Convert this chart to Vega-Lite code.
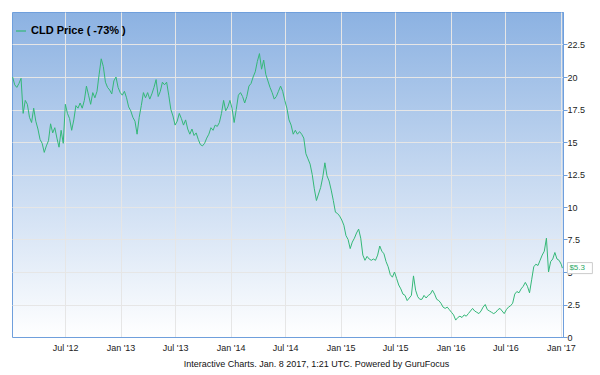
{
  "$schema": "https://vega.github.io/schema/vega-lite/v6.json",
  "width": 551,
  "height": 325,
  "autosize": {"type": "none"},
  "padding": {"left": 12, "top": 12, "right": 37, "bottom": 38},
  "background": "#ffffff",
  "config": {
    "font": "Liberation Sans",
    "view": {
      "fill": {"gradient": "linear", "x1": 0, "y1": 0, "x2": 0, "y2": 1, "stops": [{"offset": 0, "color": "#8cb2e2"}, {"offset": 1, "color": "#ffffff"}]},
      "stroke": "#6f9fdc",
      "strokeWidth": 1
    },
    "axis": {"gridColor": "#e6e6e6", "gridWidth": 1, "domainColor": "#6f9fdc", "tickColor": "#6f9fdc", "labelColor": "#222222", "labelFontSize": 9}
  },
  "data": {"values": [
    {"date":"2012-01-09","price":20.0},{"date":"2012-01-16","price":19.4},{"date":"2012-01-23","price":19.2},{"date":"2012-01-30","price":19.5},
    {"date":"2012-02-06","price":19.9},{"date":"2012-02-13","price":17.2},{"date":"2012-02-20","price":18.2},{"date":"2012-02-27","price":17.9},
    {"date":"2012-03-05","price":16.9},{"date":"2012-03-12","price":16.5},{"date":"2012-03-19","price":17.6},{"date":"2012-03-26","price":16.6},
    {"date":"2012-04-02","price":16.0},{"date":"2012-04-09","price":15.2},{"date":"2012-04-16","price":14.9},{"date":"2012-04-23","price":14.2},{"date":"2012-04-30","price":14.7},
    {"date":"2012-05-07","price":15.1},{"date":"2012-05-14","price":16.4},{"date":"2012-05-21","price":15.7},{"date":"2012-05-28","price":16.1},
    {"date":"2012-06-04","price":15.3},{"date":"2012-06-11","price":14.6},{"date":"2012-06-18","price":15.9},{"date":"2012-06-25","price":14.9},
    {"date":"2012-07-02","price":17.9},{"date":"2012-07-09","price":17.2},{"date":"2012-07-16","price":16.8},{"date":"2012-07-23","price":15.9},{"date":"2012-07-30","price":16.7},
    {"date":"2012-08-06","price":17.8},{"date":"2012-08-13","price":17.6},{"date":"2012-08-20","price":18.0},{"date":"2012-08-27","price":17.6},
    {"date":"2012-09-03","price":18.2},{"date":"2012-09-10","price":19.3},{"date":"2012-09-17","price":18.6},{"date":"2012-09-24","price":17.9},
    {"date":"2012-10-01","price":18.8},{"date":"2012-10-08","price":18.4},{"date":"2012-10-15","price":18.9},{"date":"2012-10-22","price":20.2},{"date":"2012-10-29","price":21.4},
    {"date":"2012-11-05","price":20.8},{"date":"2012-11-12","price":19.6},{"date":"2012-11-19","price":19.2},{"date":"2012-11-26","price":19.0},
    {"date":"2012-12-03","price":18.7},{"date":"2012-12-10","price":19.7},{"date":"2012-12-17","price":20.0},{"date":"2012-12-24","price":19.2},{"date":"2012-12-31","price":18.8},
    {"date":"2013-01-07","price":18.6},{"date":"2013-01-14","price":18.9},{"date":"2013-01-21","price":18.4},{"date":"2013-01-28","price":17.7},
    {"date":"2013-02-04","price":17.4},{"date":"2013-02-11","price":16.9},{"date":"2013-02-18","price":16.6},{"date":"2013-02-25","price":15.6},
    {"date":"2013-03-04","price":16.9},{"date":"2013-03-11","price":17.8},{"date":"2013-03-18","price":18.8},{"date":"2013-03-25","price":18.4},
    {"date":"2013-04-01","price":18.8},{"date":"2013-04-08","price":18.3},{"date":"2013-04-15","price":18.7},{"date":"2013-04-22","price":19.2},{"date":"2013-04-29","price":19.8},
    {"date":"2013-05-06","price":18.5},{"date":"2013-05-13","price":18.9},{"date":"2013-05-20","price":19.6},{"date":"2013-05-27","price":19.4},
    {"date":"2013-06-03","price":19.6},{"date":"2013-06-10","price":18.6},{"date":"2013-06-17","price":17.5},{"date":"2013-06-24","price":17.0},
    {"date":"2013-07-01","price":16.3},{"date":"2013-07-08","price":16.6},{"date":"2013-07-15","price":17.2},{"date":"2013-07-22","price":16.8},{"date":"2013-07-29","price":16.3},
    {"date":"2013-08-05","price":16.7},{"date":"2013-08-12","price":16.0},{"date":"2013-08-19","price":15.6},{"date":"2013-08-26","price":16.0},
    {"date":"2013-09-02","price":15.5},{"date":"2013-09-09","price":15.7},{"date":"2013-09-16","price":15.2},{"date":"2013-09-23","price":14.8},{"date":"2013-09-30","price":14.7},
    {"date":"2013-10-07","price":14.9},{"date":"2013-10-14","price":15.3},{"date":"2013-10-21","price":15.6},{"date":"2013-10-28","price":16.1},
    {"date":"2013-11-04","price":15.9},{"date":"2013-11-11","price":16.3},{"date":"2013-11-18","price":16.2},{"date":"2013-11-25","price":16.5},
    {"date":"2013-12-02","price":17.2},{"date":"2013-12-09","price":18.2},{"date":"2013-12-16","price":17.4},{"date":"2013-12-23","price":17.7},{"date":"2013-12-30","price":18.2},
    {"date":"2014-01-06","price":17.6},{"date":"2014-01-13","price":16.5},{"date":"2014-01-20","price":17.5},{"date":"2014-01-27","price":18.6},
    {"date":"2014-02-03","price":18.8},{"date":"2014-02-10","price":18.5},{"date":"2014-02-17","price":18.0},{"date":"2014-02-24","price":18.5},
    {"date":"2014-03-03","price":19.3},{"date":"2014-03-10","price":19.5},{"date":"2014-03-17","price":20.0},{"date":"2014-03-24","price":20.4},{"date":"2014-03-31","price":21.2},
    {"date":"2014-04-07","price":21.8},{"date":"2014-04-14","price":20.6},{"date":"2014-04-21","price":21.3},{"date":"2014-04-28","price":20.2},
    {"date":"2014-05-05","price":19.7},{"date":"2014-05-12","price":19.2},{"date":"2014-05-19","price":18.8},{"date":"2014-05-26","price":18.3},
    {"date":"2014-06-02","price":18.5},{"date":"2014-06-09","price":18.9},{"date":"2014-06-16","price":19.3},{"date":"2014-06-23","price":18.9},{"date":"2014-06-30","price":18.2},
    {"date":"2014-07-07","price":17.6},{"date":"2014-07-14","price":16.7},{"date":"2014-07-21","price":16.3},{"date":"2014-07-28","price":15.6},
    {"date":"2014-08-04","price":15.9},{"date":"2014-08-11","price":15.6},{"date":"2014-08-18","price":15.8},{"date":"2014-08-25","price":15.6},
    {"date":"2014-09-01","price":15.3},{"date":"2014-09-08","price":14.1},{"date":"2014-09-15","price":13.7},{"date":"2014-09-22","price":13.3},{"date":"2014-09-29","price":12.5},
    {"date":"2014-10-06","price":11.4},{"date":"2014-10-13","price":10.5},{"date":"2014-10-20","price":11.0},{"date":"2014-10-27","price":11.5},
    {"date":"2014-11-03","price":12.3},{"date":"2014-11-10","price":13.4},{"date":"2014-11-17","price":12.4},{"date":"2014-11-24","price":12.0},
    {"date":"2014-12-01","price":11.3},{"date":"2014-12-08","price":10.5},{"date":"2014-12-15","price":9.6},{"date":"2014-12-22","price":9.5},{"date":"2014-12-29","price":9.3},
    {"date":"2015-01-05","price":9.0},{"date":"2015-01-12","price":8.6},{"date":"2015-01-19","price":7.8},{"date":"2015-01-26","price":7.5},
    {"date":"2015-02-02","price":6.8},{"date":"2015-02-09","price":7.3},{"date":"2015-02-16","price":7.6},{"date":"2015-02-23","price":8.0},
    {"date":"2015-03-02","price":8.3},{"date":"2015-03-09","price":7.6},{"date":"2015-03-16","price":6.3},{"date":"2015-03-23","price":5.9},{"date":"2015-03-30","price":6.2},
    {"date":"2015-04-06","price":6.0},{"date":"2015-04-13","price":5.9},{"date":"2015-04-20","price":6.0},{"date":"2015-04-27","price":5.9},
    {"date":"2015-05-04","price":6.3},{"date":"2015-05-11","price":7.0},{"date":"2015-05-18","price":6.6},{"date":"2015-05-25","price":6.4},
    {"date":"2015-06-01","price":5.8},{"date":"2015-06-08","price":5.4},{"date":"2015-06-15","price":4.8},{"date":"2015-06-22","price":4.6},{"date":"2015-06-29","price":5.0},
    {"date":"2015-07-06","price":4.5},{"date":"2015-07-13","price":4.0},{"date":"2015-07-20","price":3.7},{"date":"2015-07-27","price":3.3},
    {"date":"2015-08-03","price":3.2},{"date":"2015-08-10","price":2.8},{"date":"2015-08-17","price":3.0},{"date":"2015-08-24","price":3.2},{"date":"2015-08-31","price":4.7},
    {"date":"2015-09-07","price":3.6},{"date":"2015-09-14","price":3.1},{"date":"2015-09-21","price":2.9},{"date":"2015-09-28","price":2.9},
    {"date":"2015-10-05","price":3.2},{"date":"2015-10-12","price":3.0},{"date":"2015-10-19","price":3.2},{"date":"2015-10-26","price":3.3},
    {"date":"2015-11-02","price":3.6},{"date":"2015-11-09","price":3.3},{"date":"2015-11-16","price":2.9},{"date":"2015-11-23","price":2.8},{"date":"2015-11-30","price":2.6},
    {"date":"2015-12-07","price":2.3},{"date":"2015-12-14","price":2.2},{"date":"2015-12-21","price":2.3},{"date":"2015-12-28","price":2.1},
    {"date":"2016-01-04","price":1.9},{"date":"2016-01-11","price":1.7},{"date":"2016-01-18","price":1.3},{"date":"2016-01-25","price":1.5},
    {"date":"2016-02-01","price":1.6},{"date":"2016-02-08","price":1.5},{"date":"2016-02-15","price":1.7},{"date":"2016-02-22","price":1.6},{"date":"2016-02-29","price":1.8},
    {"date":"2016-03-07","price":2.0},{"date":"2016-03-14","price":2.2},{"date":"2016-03-21","price":2.0},{"date":"2016-03-28","price":1.9},
    {"date":"2016-04-04","price":1.8},{"date":"2016-04-11","price":2.0},{"date":"2016-04-18","price":2.3},{"date":"2016-04-25","price":2.5},
    {"date":"2016-05-02","price":2.1},{"date":"2016-05-09","price":2.0},{"date":"2016-05-16","price":1.9},{"date":"2016-05-23","price":1.8},{"date":"2016-05-30","price":1.9},
    {"date":"2016-06-06","price":2.1},{"date":"2016-06-13","price":2.2},{"date":"2016-06-20","price":2.0},{"date":"2016-06-27","price":1.8},
    {"date":"2016-07-04","price":2.1},{"date":"2016-07-11","price":2.3},{"date":"2016-07-18","price":2.4},{"date":"2016-07-25","price":2.6},
    {"date":"2016-08-01","price":3.3},{"date":"2016-08-08","price":3.5},{"date":"2016-08-15","price":3.4},{"date":"2016-08-22","price":3.7},{"date":"2016-08-29","price":3.9},
    {"date":"2016-09-05","price":4.2},{"date":"2016-09-12","price":3.9},{"date":"2016-09-19","price":3.4},{"date":"2016-09-26","price":4.4},
    {"date":"2016-10-03","price":5.4},{"date":"2016-10-10","price":5.6},{"date":"2016-10-17","price":5.5},{"date":"2016-10-24","price":5.9},{"date":"2016-10-31","price":6.3},
    {"date":"2016-11-07","price":6.6},{"date":"2016-11-14","price":7.6},{"date":"2016-11-21","price":5.0},{"date":"2016-11-28","price":5.8},
    {"date":"2016-12-05","price":6.0},{"date":"2016-12-12","price":6.5},{"date":"2016-12-19","price":6.0},{"date":"2016-12-26","price":5.9},
    {"date":"2017-01-02","price":5.6},{"date":"2017-01-06","price":5.3}
  ]},
  "encoding": {
    "x": {
      "field": "date", "type": "temporal",
      "scale": {"domain": [{"year": 2012, "month": 1, "date": 7}, {"year": 2017, "month": 1, "date": 8}]},
      "axis": {
        "values": [
          {"year": 2012, "month": 7, "date": 1}, {"year": 2013, "month": 1, "date": 1},
          {"year": 2013, "month": 7, "date": 1}, {"year": 2014, "month": 1, "date": 1},
          {"year": 2014, "month": 7, "date": 1}, {"year": 2015, "month": 1, "date": 1},
          {"year": 2015, "month": 7, "date": 1}, {"year": 2016, "month": 1, "date": 1},
          {"year": 2016, "month": 7, "date": 1}, {"year": 2017, "month": 1, "date": 1}
        ],
        "format": "%b '%y",
        "ticks": false,
        "labelPadding": 6,
        "labelFlush": false,
        "labelOverlap": false,
        "grid": true,
        "title": "Interactive Charts. Jan. 8 2017, 1:21 UTC. Powered by GuruFocus",
        "titleFontSize": 9,
        "titleFontWeight": "normal",
        "titleColor": "#111111",
        "titleX": 304,
        "titleY": 26,
        "titleAlign": "center",
        "titleBaseline": "middle"
      }
    },
    "y": {
      "field": "price", "type": "quantitative",
      "scale": {"domain": [0, 25], "nice": false},
      "axis": {
        "orient": "right",
        "values": [0, 2.5, 5, 7.5, 10, 12.5, 15, 17.5, 20, 22.5],
        "format": ".3~g",
        "tickSize": 4,
        "labelPadding": 0,
        "labelOverlap": false,
        "labelFlush": false,
        "grid": true,
        "title": null
      }
    }
  },
  "layer": [
    {
      "mark": {"type": "line", "strokeWidth": 1, "clip": true},
      "encoding": {
        "color": {
          "datum": "CLD Price ( -73% )",
          "type": "nominal",
          "scale": {"range": ["#34b878"]},
          "legend": {
            "orient": "none",
            "legendX": 3,
            "legendY": 13,
            "title": null,
            "symbolType": "stroke",
            "symbolSize": 100,
            "symbolStrokeWidth": 1.2,
            "labelFontSize": 11,
            "labelFontWeight": "bold",
            "labelColor": "#000000",
            "labelOffset": 4,
            "padding": 0
          }
        }
      }
    },
    {
      "transform": [{"filter": "toDate(datum.date) > datetime(2017, 0, 4)"}],
      "mark": {"type": "point", "shape": "M0,-0.44H2V0.44H0Z", "size": 625, "filled": true, "fill": "#ffffff", "stroke": "#cccccc", "strokeWidth": 1, "opacity": 1, "xOffset": 5}
    },
    {
      "transform": [{"filter": "toDate(datum.date) > datetime(2017, 0, 4)"}],
      "mark": {"type": "text", "align": "left", "baseline": "middle", "dx": 7, "fontSize": 8, "color": "#2aa865"},
      "encoding": {
        "text": {"field": "price", "type": "quantitative", "format": "$.1f"}
      }
    }
  ]
}
